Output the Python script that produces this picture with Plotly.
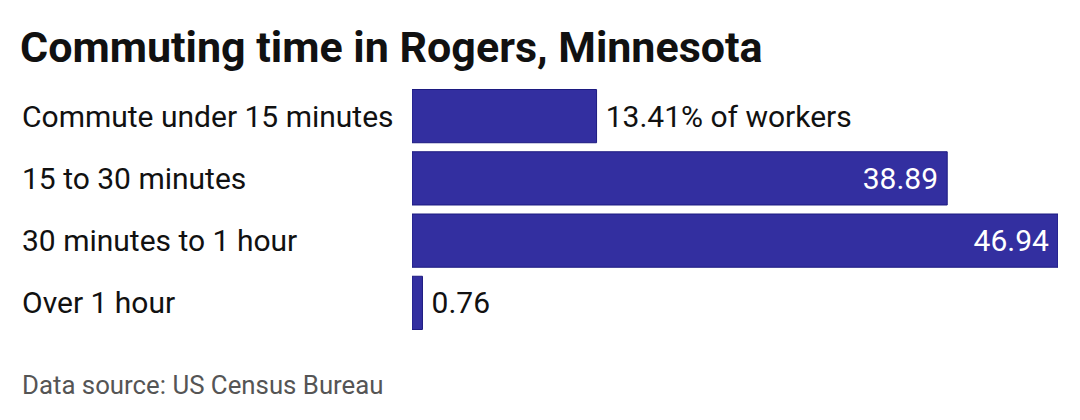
import plotly.graph_objects as go

# Commute share of workers, Rogers MN
categories = ['Commute under 15 minutes', '15 to 30 minutes',
              '30 minutes to 1 hour', 'Over 1 hour']
shares = [13.41, 38.89, 46.94, 0.76]
bar_labels = ['13.41% of workers', '38.89', '46.94', '0.76']
label_pos = ['outside', 'inside', 'inside', 'outside']

# thin spaces give the labels a bit of breathing room from the bar edge
padded = ['\u2009' + t if p == 'outside' else t + '\u2009'
          for t, p in zip(bar_labels, label_pos)]

fig = go.Figure()

fig.add_trace(go.Bar(
    x=shares, y=categories, orientation='h',
    text=padded, textposition=label_pos,
    insidetextanchor='end',
    insidetextfont=dict(color='white', size=30, family='Roboto'),
    outsidetextfont=dict(color='#111111', size=30, family='Roboto'),
    marker=dict(color='#332fa0', line=dict(color='#1c1a80', width=1)),
    cliponaxis=False, hoverinfo='skip',
))

# left-aligned category labels
for cat in categories:
    fig.add_annotation(
        x=0, xref='paper', xshift=-392, y=cat, yref='y',
        text=cat, showarrow=False, xanchor='left',
        font=dict(size=30, color='#111111', family='Roboto'))

fig.add_annotation(
    x=0, xref='paper', xshift=-392, y=0, yref='paper', yshift=-51,
    text='Data source: US Census Bureau', showarrow=False,
    xanchor='left', yanchor='middle',
    font=dict(size=25.8, color='#555555', family='Roboto'))

fig.update_layout(
    width=1080, height=420,
    margin=dict(l=404, r=30, t=77, b=94),
    paper_bgcolor='white', plot_bgcolor='white',
    title=dict(text='<b>Commuting time in Rogers, Minnesota</b>',
               x=12 / 1080, xanchor='left', xref='container',
               y=1 - 39 / 420, yanchor='middle', yref='container',
               font=dict(size=43, color='#111111', family='Roboto')),
    showlegend=False,
    bargap=0.145,
    xaxis=dict(range=[0, 46.94], visible=False, fixedrange=True),
    yaxis=dict(autorange='reversed', showticklabels=False,
               showgrid=False, zeroline=False, fixedrange=True),
)

fig.write_html("out.html")
